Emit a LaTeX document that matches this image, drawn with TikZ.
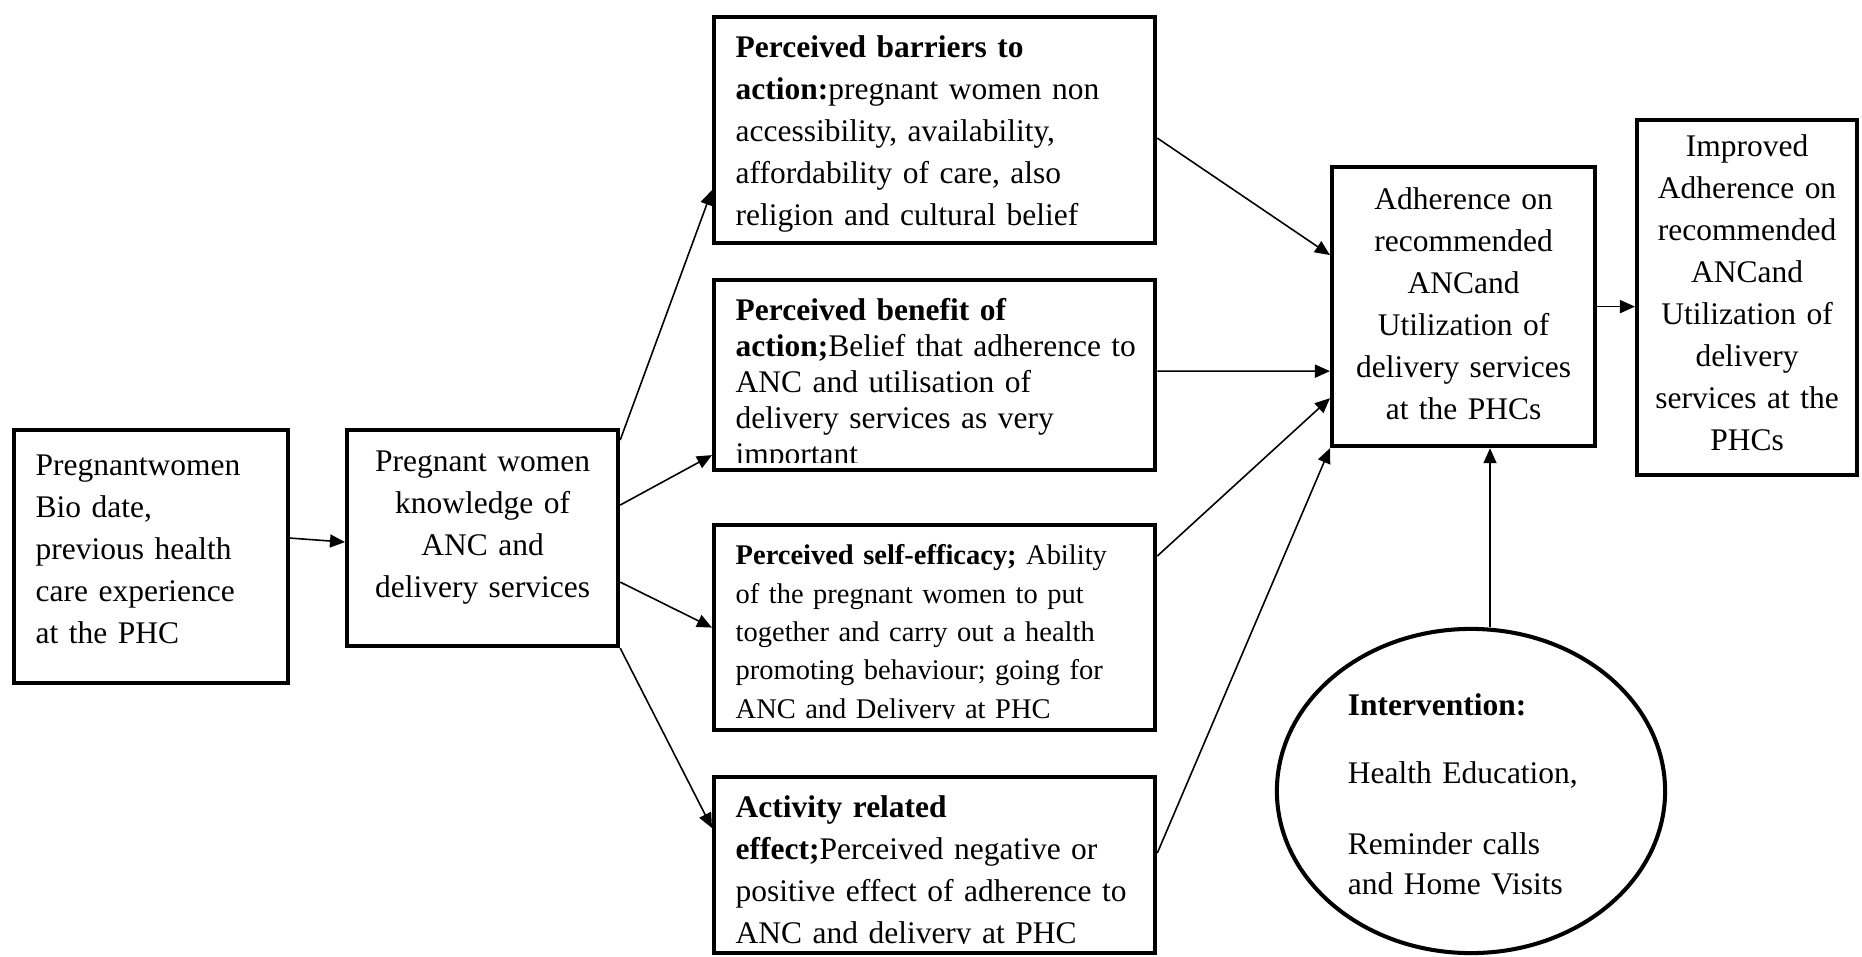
\documentclass[tikz,border=0pt]{standalone}
\usepackage{fontspec}
\setmainfont{Liberation Serif}
\usetikzlibrary{arrows.meta,shapes.geometric}

\begin{document}
\begin{tikzpicture}[x=0.01cm, y=-0.01cm, >={Triangle[length=1.5mm, width=1.3mm]},
    box/.style={draw, line width=1.15pt, inner sep=0pt, anchor=north west},
    boxtext/.style={anchor=north west, inner sep=0pt, text width=4.15cm, align=left,
      font=\fontsize{8.95}{11.95}\selectfont},
    midtext/.style={anchor=north, inner sep=0pt, align=center,
      font=\fontsize{8.95}{11.95}\selectfont},
    link/.style={->, line width=0.45pt}]
\useasboundingbox (0,0) rectangle (1862,957);

% frames
\node [box, minimum width=2.74cm, minimum height=2.53cm] (patient) at (12,428) {};
\node [box, minimum width=2.71cm, minimum height=2.16cm] (knowledge) at (345,428) {};
\node [box, minimum width=4.41cm, minimum height=2.26cm] (barriers) at (712,15) {};
\node [box, minimum width=4.41cm, minimum height=1.90cm] (benefit) at (712,278) {};
\node [box, minimum width=4.41cm, minimum height=2.05cm] (efficacy) at (712,523) {};
\node [box, minimum width=4.41cm, minimum height=1.76cm] (activity) at (712,775) {};
\node [box, minimum width=2.63cm, minimum height=2.79cm] (adherence) at (1330,165) {};
\node [box, minimum width=2.20cm, minimum height=3.55cm] (improved) at (1635,118) {};
\node [draw, ellipse, line width=1.15pt, minimum width=3.88cm, minimum height=3.24cm,
    inner sep=0pt, text width=2.46cm, align=left,
    font=\fontsize{8.95}{11.38}\selectfont] (intervention) at (1471,791)
  {\strut\textbf{Intervention:}\\[0.28cm]Health Education,\\[0.305cm]Reminder calls\\and Home Visits};

% texts
\node [boxtext, text width=2.3cm] (patient-text) at ([shift={(23,17)}]patient.north west)
  {\strut Pregnantwomen\\Bio date,\\previous health\\care experience\\at the PHC};
\node [midtext, text width=2.71cm] (knowledge-text) at ([shift={(0,13.6)}]knowledge.north)
  {\strut Pregnant women\\knowledge of\\ANC and\\delivery services};
\node [boxtext] (barriers-text) at ([shift={(23,12.1)}]barriers.north west)
  {\strut\textbf{Perceived barriers to}\\\textbf{action:}pregnant women non\\accessibility, availability,\\affordability of care, also\\religion and cultural belief};
\begin{scope}
  \clip (benefit.north west) rectangle ([yshift=0.10cm]benefit.south east);
  \node [boxtext, font=\fontsize{8.95}{10.25}\selectfont] (benefit-text) at ([shift={(23,16.8)}]benefit.north west)
    {\strut\textbf{Perceived benefit of}\\\textbf{action;}Belief that adherence to\\ANC and utilisation of\\delivery services as very\\important};
\end{scope}
\begin{scope}
  \clip (efficacy.north west) rectangle ([yshift=0.14cm]efficacy.south east);
  \node [boxtext, font=\fontsize{8.1}{10.9}\selectfont] (efficacy-text) at ([shift={(23,14.2)}]efficacy.north west)
    {\strut\textbf{Perceived self-efficacy;} Ability\\of the pregnant women to put\\together and carry out a health\\promoting behaviour; going for\\ANC and Delivery at PHC};
\end{scope}
\begin{scope}
  \clip (activity.north west) rectangle ([yshift=0.12cm]activity.south east);
  \node [boxtext] (activity-text) at ([shift={(23,12.6)}]activity.north west)
    {\strut\textbf{Activity related}\\\textbf{effect;}Perceived negative or\\positive effect of adherence to\\ANC and delivery at PHC};
\end{scope}
\node [midtext, text width=2.63cm] (adherence-text) at ([shift={(0,14)}]adherence.north)
  {\strut Adherence on\\recommended\\ANCand\\Utilization of\\delivery services\\at the PHCs};
\node [midtext, text width=2.20cm] (improved-text) at ([shift={(0,8.6)}]improved.north)
  {\strut Improved\\Adherence on\\recommended\\ANCand\\Utilization of\\delivery\\services at the\\PHCs};

% arrows
\draw [link] ([yshift=0.185cm]patient.east) -- ([yshift=-0.04cm]knowledge.west);

\foreach \ys/\target/\ye in {0.98/barriers/-0.60, 0.33/benefit/-0.80, -0.44/efficacy/0, -1.10/activity/0.37}
  \draw [link] ([yshift=\ys cm]knowledge.east) -- ([yshift=\ye cm]\target.west);

\foreach \target/\ys/\ye in {barriers/-0.08/0.515, benefit/0.04/-0.645, efficacy/0.715/-0.915, activity/0.12/-1.415}
  \draw [link] ([yshift=\ys cm]\target.east) -- ([yshift=\ye cm]adherence.west);

\coordinate (intervention-top) at ([xshift=0.19cm]intervention.north);
\draw [link] (intervention-top) -- (intervention-top |- adherence.south);

\draw [link] (adherence.east) -- (adherence.east -| improved.west);
\end{tikzpicture}
\end{document}
